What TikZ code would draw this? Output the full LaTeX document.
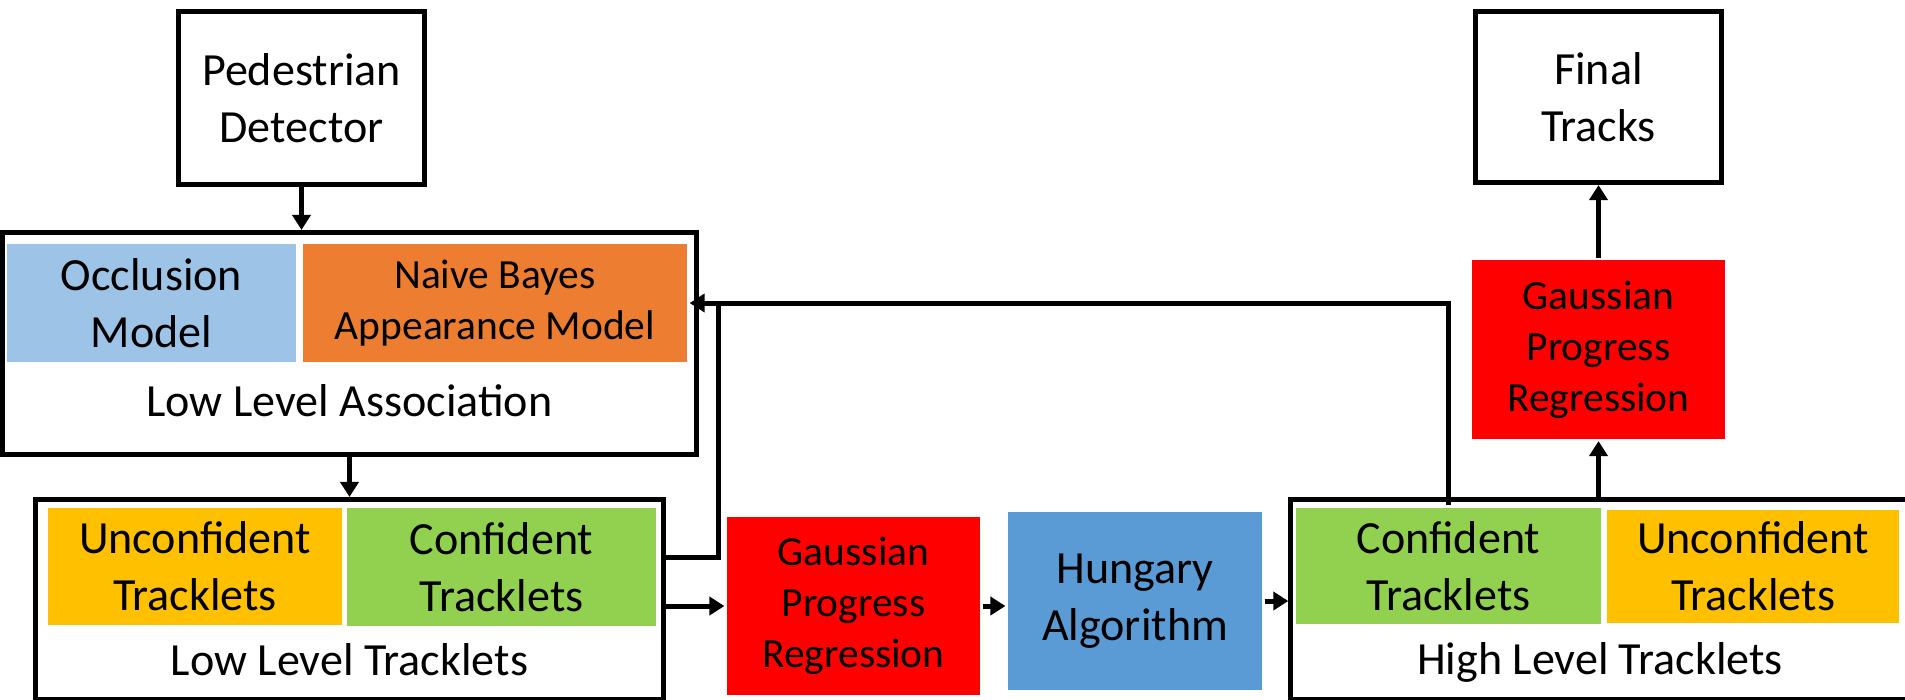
\documentclass[tikz,border=0pt]{standalone}
\usepackage{fontspec}
\setmainfont{Carlito}
\usepackage{tikz}
\usetikzlibrary{arrows.meta}
\definecolor{occBlue}{HTML}{9DC3E6}
\definecolor{bayesOrange}{HTML}{ED7D31}
\definecolor{unconfYellow}{HTML}{FFC000}
\definecolor{confGreen}{HTML}{92D050}
\definecolor{gprRed}{HTML}{FF0000}
\definecolor{hungBlue}{HTML}{5B9BD5}
\newcommand{\bigText}{\fontsize{13.1pt}{16.2pt}\selectfont}
\newcommand{\smallText}{\fontsize{11.8pt}{14.5pt}\selectfont}
\tikzset{trackingFig/.style={x=0.01cm,y=-0.01cm,line width=0.05cm,
                    >={Triangle[length=1.5mm,width=1.8mm]},font=\bigText},
	stageBox/.style={draw,rectangle,align=center,inner sep=0pt},
	partBox/.style={rectangle,align=center,inner sep=0pt},
	redBox/.style={partBox,fill=gprRed,font=\smallText,minimum width=2.53cm,minimum height=1.78cm}}

\begin{document}
\begin{tikzpicture}[trackingFig]
			\clip (0,0) rectangle (1905,699);
			%DETECTION
			\node [stageBox,minimum width=2.46cm,minimum height=1.73cm] (ped) at (301.5,98) {Pedestrian\\Detector};
			%LOW LEVEL
			\node [stageBox,minimum width=6.94cm,minimum height=2.22cm] (lla) at (349.5,343.5) {};
			\node [partBox,fill=occBlue,minimum width=2.89cm,minimum height=1.18cm] (occ) at (151.5,303) {Occlusion\\Model};
			\node [partBox,fill=bayesOrange,font=\smallText,minimum width=3.84cm,minimum height=1.18cm] (naive) at (495,303) {Naive Bayes\\Appearance Model};
			\node (llaText) at (349.5,401) {Low Level Association};
			\node [stageBox,minimum width=6.28cm,minimum height=2.00cm] (llt) at (349.5,599.5) {};
			\node [partBox,fill=unconfYellow,minimum width=2.94cm,minimum height=1.16cm] (lunconf) at (195,566.5) {Unconfident\\Tracklets};
			\node [partBox,fill=confGreen,minimum width=3.09cm,minimum height=1.18cm] (lconf) at (501.5,567) {Confident\\Tracklets};
			\node (lltText) at (349.5,660) {Low Level Tracklets};
			%MIDDLE
			\node [redBox] (gpr1) at (853.5,606) {Gaussian\\Progress\\Regression};
			\node [partBox,fill=hungBlue,minimum width=2.54cm,minimum height=1.78cm] (hung) at (1135,601) {Hungary\\Algorithm};
			%HIGH LEVEL
			\node [stageBox,minimum width=6.19cm,minimum height=1.995cm] (hlt) at (1600.5,599.75) {};
			\node [partBox,fill=confGreen,minimum width=3.05cm,minimum height=1.16cm] (hconf) at (1448.5,566) {Confident\\Tracklets};
			\node [partBox,fill=unconfYellow,minimum width=2.92cm,minimum height=1.13cm] (hunconf) at (1753,566.5) {Unconfident\\Tracklets};
			\node (hltText) at (1600,662) {High Level Tracklets};
			\node [redBox] (gpr2) at (1598.5,349.5) {Gaussian\\Progress\\Regression};
			\node [stageBox,minimum width=2.46cm,minimum height=1.71cm] (final) at (1598.5,97) {Final\\Tracks};
			\coordinate (fbJoin) at (718,303);

			%
			\path[->]
			(ped.south) edge (ped.south |- lla.north)
			(lla.south) edge (llt.north)
			(llt.east |- gpr1.west) edge (gpr1.west)
			(gpr1.east) edge (gpr1.east -| hung.west)
			(hung.east) edge (hung.east -| hlt.west)
			(gpr2.south |- hlt.north) edge (gpr2.south)
			(gpr2.north) edge (final.south)
			;

			%FEEDBACK
			\draw[->] (hconf.north) -- (hconf.north |- naive.east) -- (naive.east);
			\draw ([yshift=1mm]llt.east |- lconf.east) -| (fbJoin);
\end{tikzpicture}
\end{document}
